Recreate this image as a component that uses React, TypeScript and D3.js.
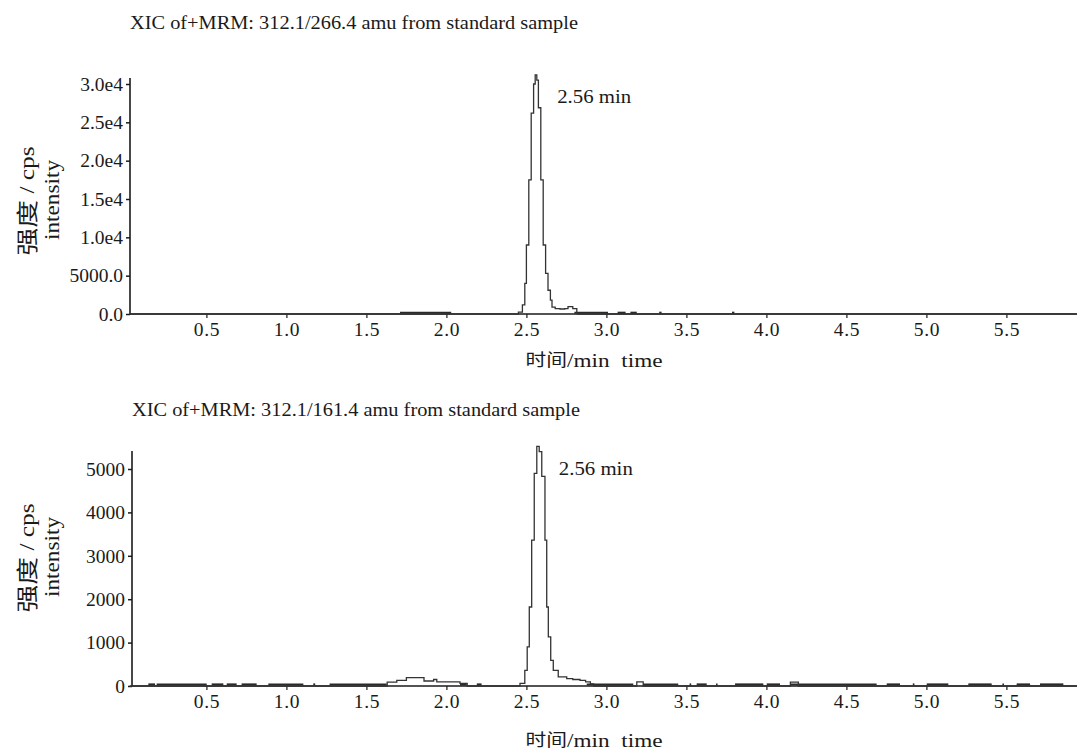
import React, { useEffect, useRef } from "react";
import * as d3 from "d3";

// chromatogram traces: [time (min), intensity (cps)]
const topTrace: [number, number][] = [
  [0.02, 0], [2.44, 0], [2.45, 250], [2.475, 1200], [2.49, 4000], [2.5, 9000],
  [2.515, 17500], [2.53, 26200], [2.545, 30000], [2.555, 31200], [2.565, 30500],
  [2.575, 26900], [2.59, 17500], [2.605, 9000], [2.62, 5300], [2.635, 3100],
  [2.65, 1800], [2.66, 900], [2.68, 700], [2.71, 650], [2.74, 700], [2.76, 950],
  [2.78, 950], [2.79, 700], [2.815, 150], [2.82, 0], [5.94, 0],
];

const bottomTrace: [number, number][] = [
  [0.02, 0], [1.62, 0], [1.63, 90], [1.69, 130], [1.75, 195], [1.86, 115],
  [1.92, 150], [1.94, 93], [2.085, 60], [2.13, 0], [2.45, 0], [2.46, 60],
  [2.49, 360], [2.505, 900], [2.518, 1820], [2.533, 3360], [2.549, 4900],
  [2.565, 5520], [2.58, 5400], [2.596, 4830], [2.616, 3360], [2.627, 1820],
  [2.637, 1130], [2.652, 590], [2.668, 360], [2.699, 210], [2.752, 170],
  [2.79, 150], [2.835, 130], [2.87, 93], [2.9, 50], [2.92, 0], [3.19, 0],
  [3.19, 93], [3.23, 93], [3.23, 0], [4.15, 0], [4.15, 90], [4.2, 90], [4.2, 0],
  [5.94, 0],
];

// low-level baseline noise stretches [start, end] (min)
const topNoise: [number, number][] = [
  [1.71, 2.03], [2.8, 3.01], [3.07, 3.12], [3.15, 3.19], [3.33, 3.345], [3.785, 3.8],
];

const bottomNoise: [number, number][] = [
  [0.137, 0.179], [0.189, 0.502], [0.533, 0.606], [0.627, 0.689], [0.72, 0.814],
  [0.887, 1.106], [1.168, 1.18], [1.27, 1.627], [2.085, 2.127], [2.19, 2.22],
  [2.877, 3.168], [3.23, 3.449], [3.52, 3.53], [3.564, 3.627], [3.685, 3.695],
  [3.804, 3.981], [4.002, 4.085], [4.148, 4.689], [4.752, 4.835], [4.915, 4.925],
  [5.002, 5.137], [5.262, 5.408], [5.475, 5.485], [5.564, 5.648], [5.71, 5.856],
];

const xTicks = [0.5, 1.0, 1.5, 2.0, 2.5, 3.0, 3.5, 4.0, 4.5, 5.0, 5.5];
const topYTicks = [0, 5000, 10000, 15000, 20000, 25000, 30000];
const topYLabels = ["0.0", "5000.0", "1.0e4", "1.5e4", "2.0e4", "2.5e4", "3.0e4"];
const bottomYTicks = [0, 1000, 2000, 3000, 4000, 5000];
const bottomYLabels = ["0", "1000", "2000", "3000", "4000", "5000"];

const titles = [
  "XIC of+MRM: 312.1/266.4 amu from standard sample",
  "XIC of+MRM: 312.1/161.4 amu from standard sample",
];
const peakLabel = "2.56 min";

const SERIF = "'Liberation Serif', 'Times New Roman', 'Noto Sans CJK SC', serif";
const INK = "#1a1a1a";

type Panel = {
  trace: [number, number][];
  noise: [number, number][];
  yTicks: number[];
  yLabels: string[];
  title: string;
  axisX: number;
  base: number;
  topTickY: number;
  axisTopY: number;
  titleY: number;
  xTitleY: number;
  yTitleY: number;
  noiseLevel: number;
};

const drawPanel = (svg: d3.Selection<SVGSVGElement, unknown, null, undefined>, p: Panel) => {
  const width = 1077;
  const x = d3.scaleLinear().domain([0, 5.94]).range([126.4, 1076.8]);
  const yMaxTick = p.yTicks[p.yTicks.length - 1];
  const y = d3.scaleLinear().domain([0, yMaxTick]).range([p.base, p.topTickY]);

  const g = svg.append("g");

  // title
  g.append("text")
    .attr("x", p.axisX)
    .attr("y", p.titleY)
    .attr("dominant-baseline", "central")
    .attr("textLength", 448)
    .attr("lengthAdjust", "spacingAndGlyphs")
    .attr("fill", INK)
    .style("font-family", SERIF)
    .style("font-size", "19px")
    .text(p.title);

  // x axis
  const xAxis = d3
    .axisBottom(x)
    .tickValues(xTicks)
    .tickSize(4)
    .tickSizeOuter(0)
    .tickPadding(4)
    .tickFormat((d) => d3.format(".1f")(d as number));
  const xg = g.append("g").attr("transform", `translate(0,${p.base})`).call(xAxis);
  xg.select(".domain").remove();
  xg.selectAll("text")
    .style("font-family", SERIF)
    .style("font-size", "19.5px")
    .style("letter-spacing", "0.6px")
    .attr("fill", INK);
  xg.selectAll("line").attr("stroke", INK).attr("stroke-width", 1.2);

  // y axis
  const yAxis = d3
    .axisLeft(y)
    .tickValues(p.yTicks)
    .tickSize(4)
    .tickSizeOuter(0)
    .tickPadding(3)
    .tickFormat((d, i) => p.yLabels[i]);
  const yg = g.append("g").attr("transform", `translate(${p.axisX},0)`).call(yAxis);
  yg.select(".domain").remove();
  yg.selectAll("text")
    .style("font-family", SERIF)
    .style("font-size", "19.5px")
    .attr("fill", INK);
  yg.selectAll("line").attr("stroke", INK).attr("stroke-width", 1.5);

  // axis lines
  g.append("line")
    .attr("x1", p.axisX).attr("x2", width)
    .attr("y1", p.base).attr("y2", p.base)
    .attr("stroke", INK).attr("stroke-width", 1.6);
  g.append("line")
    .attr("x1", p.axisX).attr("x2", p.axisX)
    .attr("y1", p.base + 0.8).attr("y2", p.axisTopY)
    .attr("stroke", INK).attr("stroke-width", 1.6);

  // baseline noise
  g.selectAll(".noise")
    .data(p.noise)
    .enter()
    .append("line")
    .attr("x1", (d) => x(d[0]))
    .attr("x2", (d) => x(d[1]))
    .attr("y1", y(p.noiseLevel))
    .attr("y2", y(p.noiseLevel))
    .attr("stroke", "#2a2a2a")
    .attr("stroke-width", 2.2);

  // trace
  const line = d3
    .line<[number, number]>()
    .x((d) => x(d[0]))
    .y((d) => y(d[1]))
    .curve(d3.curveStepAfter);
  g.append("path")
    .datum(p.trace)
    .attr("d", line)
    .attr("fill", "none")
    .attr("stroke", "#333")
    .attr("stroke-width", 1.3);

  // peak label
  const peak = p.trace.reduce((a, b) => (b[1] > a[1] ? b : a));
  g.append("text")
    .attr("x", x(peak[0]) + 22)
    .attr("y", y(peak[1]) + 22)
    .attr("dominant-baseline", "central")
    .attr("textLength", 74)
    .attr("lengthAdjust", "spacingAndGlyphs")
    .attr("fill", INK)
    .style("font-family", SERIF)
    .style("font-size", "19px")
    .text(peakLabel);

  // axis titles
  const yt = g.append("text")
    .attr("transform", `translate(27,${p.yTitleY}) rotate(-90)`)
    .attr("text-anchor", "middle")
    .attr("dominant-baseline", "central")
    .attr("textLength", 109)
    .attr("lengthAdjust", "spacingAndGlyphs")
    .attr("fill", INK)
    .style("font-family", SERIF)
    .style("font-size", "22px");
  yt.append("tspan").text("强度");
  yt.append("tspan").style("font-size", "20px").text(" / cps");
  g.append("text")
    .attr("transform", `translate(52,${p.yTitleY - 1}) rotate(-90)`)
    .attr("text-anchor", "middle")
    .attr("dominant-baseline", "central")
    .attr("textLength", 80)
    .attr("lengthAdjust", "spacingAndGlyphs")
    .attr("fill", INK)
    .style("font-family", SERIF)
    .style("font-size", "20px")
    .text("intensity");
  const xt = g.append("text")
    .attr("x", 594)
    .attr("y", p.xTitleY)
    .attr("text-anchor", "middle")
    .attr("dominant-baseline", "central")
    .attr("textLength", 137)
    .attr("lengthAdjust", "spacingAndGlyphs")
    .attr("fill", INK)
    .style("font-family", SERIF)
    .style("font-size", "19px");
  xt.append("tspan").style("font-size", "17px").text("时间");
  xt.append("tspan").text("/min\u00a0\u00a0time");
};

const App = () => {
  const svgRef = useRef<SVGSVGElement>(null);

  useEffect(() => {
    const svg = d3.select(svgRef.current as SVGSVGElement);
    svg.selectAll("*").remove();

    drawPanel(svg, {
      trace: topTrace,
      noise: topNoise,
      yTicks: topYTicks,
      yLabels: topYLabels,
      title: titles[0],
      axisX: 130,
      base: 314,
      topTickY: 84,
      axisTopY: 78,
      titleY: 22,
      xTitleY: 360,
      yTitleY: 201,
      noiseLevel: 160,
    });
    drawPanel(svg, {
      trace: bottomTrace,
      noise: bottomNoise,
      yTicks: bottomYTicks,
      yLabels: bottomYLabels,
      title: titles[1],
      axisX: 132,
      base: 686,
      topTickY: 469,
      axisTopY: 451,
      titleY: 409,
      xTitleY: 740,
      yTitleY: 558,
      noiseLevel: 35,
    });
  }, []);

  return (
    <div style={{ position: "absolute", left: 0, top: 0, background: "#fff" }}>
      <svg ref={svgRef} width={1077} height={750} />
    </div>
  );
};

export default App;
